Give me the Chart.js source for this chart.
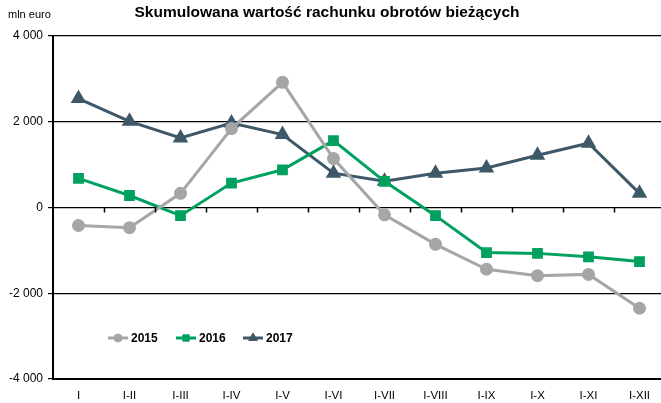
<!DOCTYPE html>
<html>
<head>
<meta charset="utf-8">
<script src="https://cdn.jsdelivr.net/npm/chart.js@4"></script>
<style>
  html, body { margin: 0; padding: 0; background: #fff; overflow: hidden; }
  #wrap { width: 661px; height: 403px; overflow: hidden; }
</style>
</head>
<body>
<div id="wrap"><canvas id="chart" width="666" height="403"></canvas></div>
<script>
const months = ["I", "I-II", "I-III", "I-IV", "I-V", "I-VI", "I-VII", "I-VIII", "I-IX", "I-X", "I-XI", "I-XII"];
const y2015 = [-420, -470, 330, 1840, 2920, 1140, -170, -860, -1440, -1590, -1560, -2350];
const y2016 = [680, 280, -190, 570, 880, 1560, 610, -190, -1050, -1070, -1150, -1260];
const y2017 = [2540, 2010, 1620, 1970, 1700, 800, 610, 800, 920, 1220, 1500, 330];

const chartTitle = "Skumulowana wartość rachunku obrotów bieżących";
const unitLabel = "mln euro";

const narrow = "'Liberation Sans Narrow', 'Arial Narrow', 'Liberation Sans', Arial, sans-serif";
const sans = "'Liberation Sans', Arial, sans-serif";

// title, unit label, small ticks under the zero line and the legend inside the plot
const extras = {
  id: "extras",
  afterDatasetsDraw(chart) {
    const { ctx, chartArea, scales } = chart;
    const zero = scales.y.getPixelForValue(0);
    const band = (chartArea.right - chartArea.left) / months.length;
    ctx.save();
    ctx.strokeStyle = "#000";
    ctx.lineWidth = 1.5;
    for (let k = 1; k < months.length; k++) {
      const px = Math.round(chartArea.left + k * band) + 0.5;
      ctx.beginPath();
      ctx.moveTo(px, zero);
      ctx.lineTo(px, zero + 5);
      ctx.stroke();
    }

    ctx.fillStyle = "#000";
    ctx.textBaseline = "middle";
    ctx.font = "bold 15.5px " + sans;
    ctx.textAlign = "center";
    ctx.fillText(chartTitle, 327, 13);
    ctx.textAlign = "left";
    ctx.font = "11px " + narrow;
    ctx.fillText(unitLabel, 8, 15);

    // legend
    const items = [[108, 0], [176, 1], [243, 2]];
    items.forEach(([lx, i]) => {
      const ds = chart.data.datasets[i];
      const ly = 338;
      ctx.strokeStyle = ds.borderColor;
      ctx.fillStyle = ds.backgroundColor;
      ctx.lineWidth = 3;
      ctx.beginPath();
      ctx.moveTo(lx, ly);
      ctx.lineTo(lx + 20, ly);
      ctx.stroke();
      ctx.lineWidth = 1;
      Chart.helpers.drawPoint(ctx, {
        pointStyle: ds.pointStyle, radius: ds.pointRadius - 1, borderWidth: 1, rotation: 0
      }, lx + 10, ly);
      ctx.fillStyle = "#000";
      ctx.font = "bold 12px " + sans;
      ctx.fillText(ds.label, lx + 23, ly + 1);
    });
    ctx.restore();
  }
};

new Chart(document.getElementById("chart"), {
  type: "line",
  data: {
    labels: months,
    datasets: [
      { label: "2015", data: y2015, borderColor: "#A6A6A6", backgroundColor: "#A6A6A6",
        pointStyle: "circle", pointRadius: 5, borderWidth: 3, fill: false },
      { label: "2016", data: y2016, borderColor: "#00A15F", backgroundColor: "#00A15F",
        pointStyle: "rect", pointRadius: 5.5, borderWidth: 3, fill: false },
      { label: "2017", data: y2017, borderColor: "#3E5868", backgroundColor: "#3E5868",
        pointStyle: "triangle", pointRadius: 6, borderWidth: 3, fill: false }
    ]
  },
  options: {
    responsive: false,
    animation: false,
    layout: { autoPadding: false, padding: { left: 0, right: 1, top: 36, bottom: 0 } },
    elements: { line: { tension: 0 }, point: { borderWidth: 1 } },
    plugins: {
      legend: { display: false },
      tooltip: { enabled: false },
      title: { display: false }
    },
    scales: {
      x: {
        offset: true,
        grid: { display: false },
        border: { display: true, color: "#000", width: 2 },
        ticks: { color: "#000", font: { family: narrow, size: 11.5 }, padding: 2, maxRotation: 0, autoSkip: false },
        afterFit(s) { s.height = 24; }
      },
      y: {
        min: -4000, max: 4000,
        grid: { color: "#000", lineWidth: 1.2, tickLength: 5, tickColor: "#000" },
        border: { display: true, color: "#000", width: 2 },
        ticks: {
          stepSize: 2000, color: "#000", padding: 5,
          font: { family: narrow, size: 12 },
          callback: v => (v < 0 ? "-" : "") + (Math.abs(v) >= 1000 ? Math.floor(Math.abs(v) / 1000) + " 000" : String(Math.abs(v)))
        },
        afterFit(s) { s.width = 53; }
      }
    }
  },
  plugins: [extras]
});
</script>
</body>
</html>
